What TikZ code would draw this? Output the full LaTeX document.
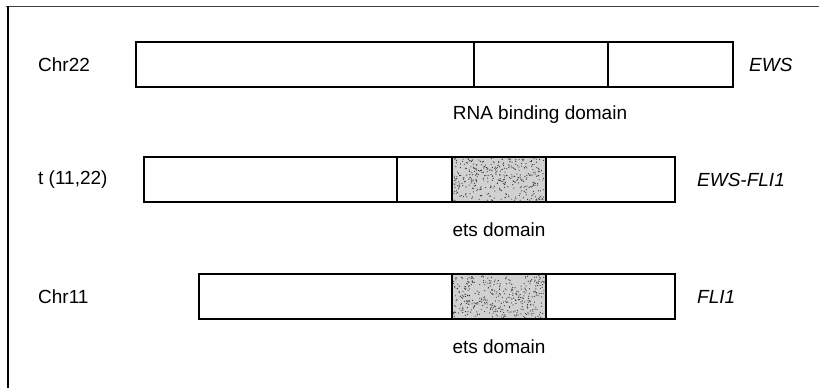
\documentclass[tikz,border=0pt]{standalone}
\usepackage{fontspec}
\setmainfont{Liberation Sans}
\usetikzlibrary{positioning}

% stippled fill for the ets domain
\newcommand{\stipple}[4]{%
  \fill[black!18] (#1,#2) rectangle ++(#3,#4);
  \foreach \i in {1,...,380}
    \fill[black!80] ({#1+1.5+(#3-3)*rnd},{#2+1.5+(#4-3)*rnd}) circle (0.6);
}

\begin{document}
\begin{tikzpicture}[x=1pt, y=-1pt, font=\fontsize{19}{22}\selectfont,
  gene/.style={line width=1.6pt, line join=miter},
  lbl/.style={anchor=west, inner sep=0pt},
  gname/.style={anchor=west, inner sep=0pt, font=\fontsize{19}{22}\selectfont\itshape}]
  \useasboundingbox (0,0) rectangle (819,388);
  \pgfmathsetseed{11}
  % Frame
  \draw[line width=0.9pt, black!75] (6,6) -- (819,6);
  \draw[line width=1.3pt] (8,6) -- (8,388);
  % Chr22: EWS
  \draw[gene] (136,42) rectangle (733,87);
  \draw[gene] (474,42) -- (474,87) (608,42) -- (608,87);
  \node[lbl] (chr22) at (38,64.5) {Chr22};
  \node[gname] (ews) at (749,64.5) {EWS};
  \node (rna) at (540,115) {RNA binding domain};
  % t(11;22): EWS-FLI1
  \stipple{452}{157}{94}{45}
  \draw[gene] (144,157) rectangle (675,202);
  \draw[gene] (397,157) -- (397,202) (452,157) -- (452,202) (546,157) -- (546,202);
  \node[lbl] (trans) at (38,180) {t (11,22)};
  \node[gname] (fusion) at (697,180) {EWS-FLI1};
  \node (ets1) at (499,230) {ets domain};
  % Chr11: FLI1
  \stipple{452}{274}{94}{45}
  \draw[gene] (199,274) rectangle (675,319);
  \draw[gene] (452,274) -- (452,319) (546,274) -- (546,319);
  \node[lbl] (chr11) at (38,296.5) {Chr11};
  \node[gname] (fli) at (697,296.5) {FLI1};
  \node (ets2) at (499,347) {ets domain};
\end{tikzpicture}
\end{document}
